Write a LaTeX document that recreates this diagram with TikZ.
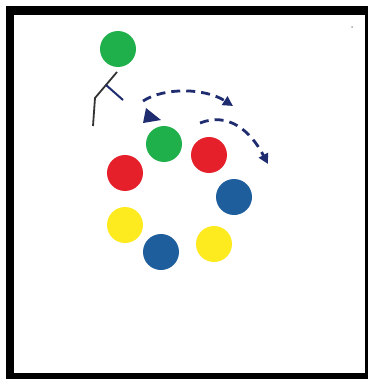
\documentclass[tikz,border=0pt]{standalone}
\usetikzlibrary{arrows.meta}
\definecolor{cgreen}{HTML}{1FB04B}
\definecolor{cred}{HTML}{E5202B}
\definecolor{cblue}{HTML}{1E5E9C}
\definecolor{cyellow}{HTML}{FDEB1F}
\definecolor{ink}{HTML}{1F2C70}
\begin{document}
\begin{tikzpicture}[x=0.05cm,y=-0.05cm,
  counter/.style={circle,inner sep=0pt,minimum size=1.8cm},
  run/.style={ink,line width=0.14cm,dash pattern=on 0.45cm off 0.3cm,
    -{Triangle[length=0.5cm,width=0.5cm]}}]
  \useasboundingbox (0,0) rectangle (368,381);
  % board
  \fill[black] (6,6) rectangle (368,379);
  \fill[white] (14,15) rectangle (365,373);
  \fill[gray!70] (352,27) circle (1);

  % player
  \draw[black!80,line width=0.09cm] (117,72) -- (95,98) -- (93,126);
  \draw[ink,line width=0.1cm] (106,85) -- (123,100);
  \node[counter,fill=cgreen] (g1) at (118,49) {};

  % cone
  \fill[ink] (146,108) -- (143,123) -- (161,120) -- cycle;

  % counters
  \node[counter,fill=cgreen]  (g2) at (164,144) {};
  \node[counter,fill=cred]    (r1) at (209,155) {};
  \node[counter,fill=cred]    (r2) at (125,173) {};
  \node[counter,fill=cblue]   (b1) at (234,197) {};
  \node[counter,fill=cyellow] (y1) at (125,225) {};
  \node[counter,fill=cyellow] (y2) at (214,244) {};
  \node[counter,fill=cblue]   (b2) at (161,252) {};

  % runs
  \coordinate (s1) at (143,101);
  \coordinate (e1) at (233,106);
  \coordinate (s2) at (200,123);
  \coordinate (e2) at (268,164);
  \draw[run] (s1) .. controls (165,87) and (205,88) .. (e1);
  \draw[run] (s2) .. controls (228,112) and (250,130) .. (e2);
\end{tikzpicture}
\end{document}
